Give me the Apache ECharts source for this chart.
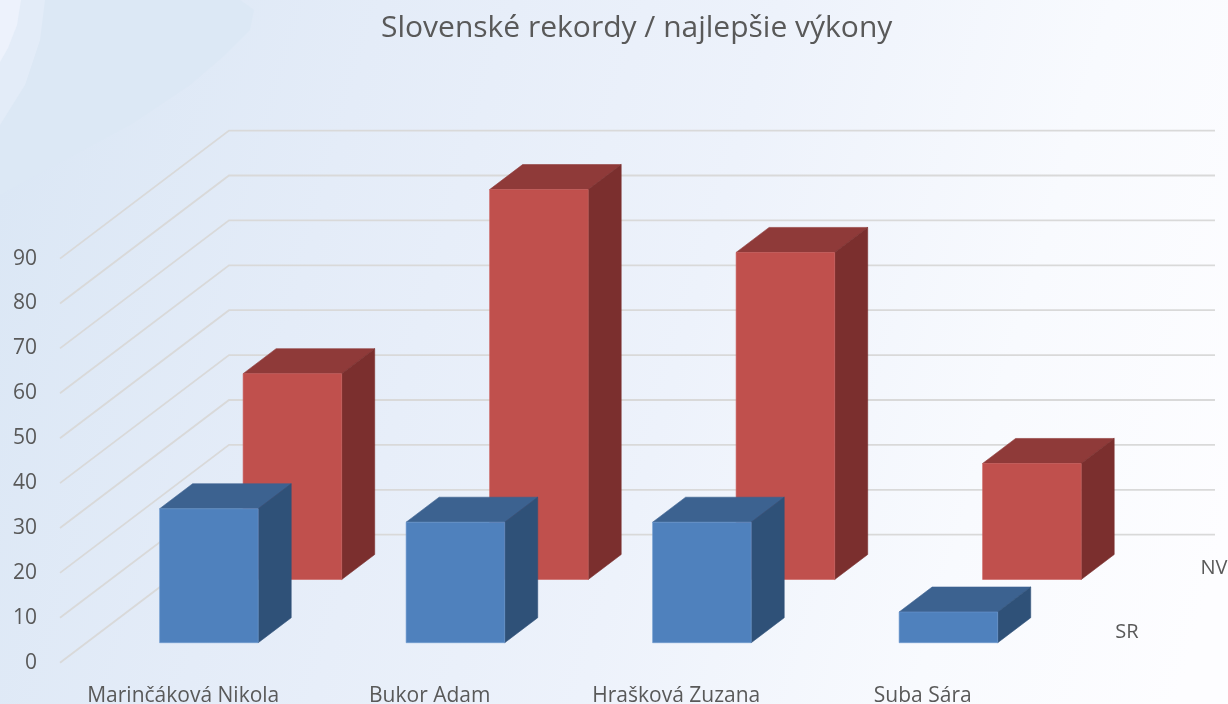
<!DOCTYPE html>
<html>
<head>
<meta charset="utf-8">
<style>html,body{margin:0;padding:0;background:#fff}#c{width:1228px;height:704px}</style>
<script src="https://cdn.jsdelivr.net/npm/echarts@6/dist/echarts.min.js"></script>
</head>
<body>
<div id="c"></div>
<script>
var chartTitle = 'Slovenské rekordy / najlepšie výkony';
var categories = ['Marinčáková Nikola', 'Bukor Adam', 'Hrašková Zuzana', 'Suba Sára'];
var seriesNames = ['SR', 'NV'];
var srValues = [30, 27, 27, 7];
var nvValues = [46, 87, 73, 26];
var valueTicks = [0, 10, 20, 30, 40, 50, 60, 70, 80, 90];

var WALL_DX = 169, WALL_DY = 128;        // depth of the floor
var BAR_DX = 33, BAR_DY = 25;            // depth of one bar
var textColor = '#595959';

function makeBox(depthFront, front, edge, top, side, labelText, labelDx, labelDy) {
  return function (params, api) {
    var cs = params.coordSys;
    var band = api.size([1, 0])[0];
    var w = band * 0.4;
    var c0 = api.coord([api.value(0), 0]);
    var c1 = api.coord([api.value(0), api.value(1)]);
    var ox = WALL_DX * depthFront, oy = -WALL_DY * depthFront;
    var x0 = c0[0] + ox - w / 2 - 0.7;
    var x1 = x0 + w;
    var yb = c0[1] + oy, yt = c1[1] + oy + 0.7;
    var poly = function (pts, color, stroke) {
      return { type: 'polygon', shape: { points: pts }, style: { fill: color, stroke: stroke || color, lineWidth: 0.6 } };
    };
    var children = [
      poly([[x0, yt], [x0 + BAR_DX, yt - BAR_DY], [x1 + BAR_DX, yt - BAR_DY], [x1, yt]], top),
      poly([[x1, yt], [x1 + BAR_DX, yt - BAR_DY], [x1 + BAR_DX, yb - BAR_DY], [x1, yb]], side),
      poly([[x0, yt], [x1, yt], [x1, yb], [x0, yb]], front, edge)
    ];
    if (params.dataIndex === categories.length - 1) {
      children.push({
        type: 'text',
        x: cs.x + cs.width + labelDx,
        y: cs.y + cs.height + labelDy,
        style: { text: labelText, fill: textColor, font: '20px "Open Sans"', align: 'center', verticalAlign: 'middle' }
      });
    }
    return { type: 'group', children: children };
  };
}

function renderWall(params, api) {
  var cs = params.coordSys;
  var y = api.coord([0, api.value(1)])[1];
  var x = cs.x;
  return {
    type: 'polyline',
    shape: { points: [[x, y], [x + WALL_DX, y - WALL_DY], [x + cs.width + WALL_DX, y - WALL_DY]] },
    style: { fill: 'none', stroke: '#d9d9d9', lineWidth: 1.8 }
  };
}

var chart = echarts.init(document.getElementById('c'), null, { renderer: 'canvas' });
chart.setOption({
  animation: false,
  backgroundColor: {
    type: 'linear', x: 0, y: 0.25, x2: 1, y2: 0.75,
    colorStops: [
      { offset: 0, color: '#dbe7f5' },
      { offset: 0.25, color: '#e4ecf8' },
      { offset: 0.55, color: '#edf2fb' },
      { offset: 0.8, color: '#f8fafe' },
      { offset: 1, color: '#fdfdff' }
    ]
  },
  graphic: [
    { type: 'polygon', z: -1, silent: true, shape: { points: [[0,0],[240,0],[254,10],[250,30],[225,55],[190,85],[130,125],[0,195]] }, style: { fill: '#dce8f5' } },
    { type: 'polygon', z: -1, silent: true, shape: { points: [[0,0],[45,0],[40,40],[25,85],[0,125]] }, style: { fill: '#e3ecf8' } },
    { type: 'polygon', z: -1, silent: true, shape: { points: [[0,0],[21,0],[17,25],[8,48],[0,62]] }, style: { fill: '#edf2fc' } }
  ],
  title: {
    text: chartTitle,
    left: 376, top: 8,
    textStyle: { color: textColor, fontFamily: 'Open Sans', fontSize: 30, fontWeight: 'normal' }
  },
  grid: { left: 60, right: 182, top: 258.6, bottom: 41.3, outerBoundsMode: 'none' },
  xAxis: {
    type: 'category',
    data: categories,
    axisLine: { show: false },
    axisTick: { show: false },
    axisLabel: { interval: 0, margin: 23, color: textColor, fontFamily: 'Open Sans', fontSize: 21 }
  },
  yAxis: {
    type: 'value', min: 0, max: 90, interval: 10,
    axisLine: { show: false },
    axisTick: { show: false },
    splitLine: { show: false },
    axisLabel: { margin: 23, padding: [6, 0, 0, 0], color: textColor, fontFamily: 'Open Sans', fontSize: 21 }
  },
  series: [
    {
      type: 'custom', name: 'wall', silent: true, renderItem: renderWall, clip: false, z: 1,
      data: valueTicks.map(function (t) { return [0, t]; })
    },
    {
      type: 'custom', name: seriesNames[1], clip: false, z: 2,
      renderItem: makeBox(0.65, '#c0504d', '#cb625f', '#8f3a39', '#7b2f2e', seriesNames[1], 168, 0 - 94),
      data: nvValues.map(function (v, i) { return [i, v]; })
    },
    {
      type: 'custom', name: seriesNames[0], clip: false, z: 3,
      renderItem: makeBox(0.156, '#4f81bd', '#6d99d0', '#3c6290', '#2f5178', seriesNames[0], 81, 0 - 30),
      data: srValues.map(function (v, i) { return [i, v]; })
    }
  ]
});
</script>
</body>
</html>
